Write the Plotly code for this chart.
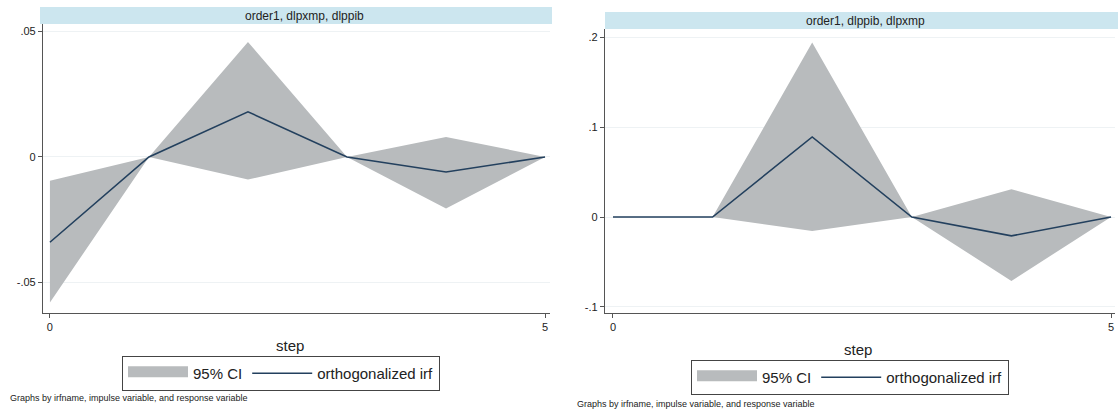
import plotly.graph_objects as go

W, H = 1118, 412

steps = [0, 1, 2, 3, 4, 5]

# Left panel: order1, dlpxmp, dlppib
left_irf = [-0.034, 0.0, 0.018, 0.0, -0.006, 0.0]
left_lo = [-0.058, 0.0, -0.009, 0.0, -0.0205, 0.0]
left_hi = [-0.0095, 0.0, 0.0458, 0.0, 0.008, 0.0]

# Right panel: order1, dlppib, dlpxmp
right_irf = [0.0, 0.0, 0.089, 0.0, -0.021, 0.0]
right_lo = [0.0, 0.0, -0.0155, 0.0, -0.071, 0.0]
right_hi = [0.0, 0.0, 0.194, 0.0, 0.031, 0.0]

left_title = "order1, dlpxmp, dlppib"
right_title = "order1, dlppib, dlpxmp"
left_yticks = [-0.05, 0, 0.05]
left_ytext = ["-.05", "0", ".05"]
right_yticks = [-0.1, 0, 0.1, 0.2]
right_ytext = ["-.1", "0", ".1", ".2"]
xticks = [0, 5]
xtext = ["0", "5"]
note = "Graphs by irfname, impulse variable, and response variable"

FILL = "#b8bbbd"
LINE = "#23405e"
STRIP = "#cce6ef"
AX = "#555555"
FONT = "Liberation Sans, Arial, sans-serif"

def px(x):
    return x / W

def py(y):
    return 1 - y / H

fig = go.Figure()

def add_panel(lo, hi, irf, xa, ya, legend):
    # CI band (legend entry drawn by a data-less twin with a thicker icon)
    fig.add_trace(go.Scatter(
        x=steps + steps[::-1], y=hi + lo[::-1], fill="toself", mode="lines",
        line=dict(width=0, color=FILL), fillcolor=FILL, name="95% CI",
        xaxis=xa, yaxis=ya, legend=legend, showlegend=False, hoverinfo="skip"))
    fig.add_trace(go.Scatter(
        x=[None], y=[None], fill="toself", mode="lines",
        line=dict(width=10, color=FILL), fillcolor=FILL, name="95% CI",
        xaxis=xa, yaxis=ya, legend=legend, hoverinfo="skip"))
    fig.add_trace(go.Scatter(
        x=steps, y=irf, mode="lines", line=dict(width=1.6, color=LINE),
        name="orthogonalized irf", xaxis=xa, yaxis=ya, legend=legend))

add_panel(left_lo, left_hi, left_irf, "x", "y", "legend")
add_panel(right_lo, right_hi, right_irf, "x2", "y2", "legend2")

axis_common = dict(showline=True, linecolor=AX, linewidth=1.2, ticks="outside",
                   ticklen=4, tickcolor=AX, tickwidth=1, zeroline=False,
                   tickfont=dict(size=11, color="#222", family=FONT))

legend_common = dict(orientation="h", xanchor="center", yanchor="top",
                     bordercolor="#444", borderwidth=1, bgcolor="white", itemwidth=60,
                     font=dict(size=15, family=FONT, color="#222"), tracegroupgap=0)

def ann(text, x, y, size, xanchor="center"):
    return dict(text=text, x=px(x), y=py(y), xref="paper", yref="paper",
                xanchor=xanchor, yanchor="middle", showarrow=False,
                font=dict(size=size, family=FONT, color="#222"))

fig.update_layout(
    width=W, height=H, margin=dict(l=0, r=0, t=0, b=0),
    paper_bgcolor="white", plot_bgcolor="white",
    font=dict(family=FONT, color="#222"),
    xaxis=dict(domain=[px(43), px(550)], range=[-0.07, 5.05], tickvals=xticks,
               ticktext=xtext, showgrid=False, anchor="y", **axis_common),
    yaxis=dict(domain=[py(313), py(24)], range=[-0.0622, 0.053], tickvals=left_yticks,
               ticktext=left_ytext, showgrid=True, gridcolor="#eef2f4", anchor="x",
               **axis_common),
    xaxis2=dict(domain=[px(605), px(1115)], range=[-0.08, 5.04], tickvals=xticks,
                ticktext=xtext, showgrid=False, anchor="y2", **axis_common),
    yaxis2=dict(domain=[py(313), py(29)], range=[-0.1067, 0.209], tickvals=right_yticks,
                ticktext=right_ytext, showgrid=True, gridcolor="#eef2f4", anchor="x2",
                **axis_common),
    legend=dict(x=px(281), y=py(356), **legend_common),
    legend2=dict(x=px(850), y=py(360), **legend_common),
    shapes=[
        dict(type="rect", xref="paper", yref="paper", x0=px(40), x1=px(552),
             y0=py(24), y1=py(7), fillcolor=STRIP, line=dict(width=0), layer="below"),
        dict(type="rect", xref="paper", yref="paper", x0=px(605), x1=1.0,
             y0=py(29), y1=py(12), fillcolor=STRIP, line=dict(width=0), layer="below"),
    ],
    annotations=[
        ann(left_title, 304, 16, 12),
        ann(right_title, 865, 21, 12),
        ann("step", 290, 345, 15),
        ann("step", 858, 349, 15),
        ann(note, 8, 398, 9, "left"),
        ann(note, 575, 404, 9, "left"),
    ],
)

fig.write_html("out.html", config={"displayModeBar": False},
               post_script="document.body.style.margin='0';document.body.style.overflow='hidden';")
